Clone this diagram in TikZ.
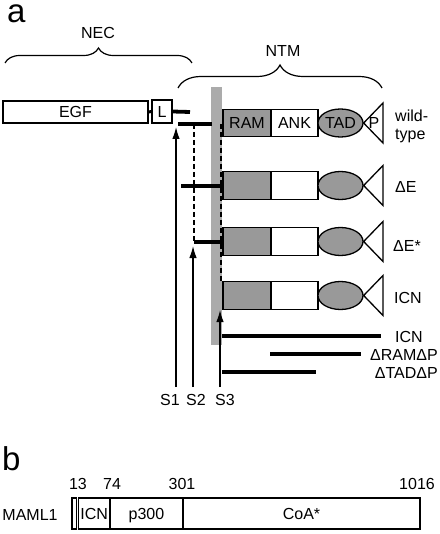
\documentclass[tikz,border=0pt]{standalone}
\usepackage{fontspec}
\setmainfont{Liberation Sans}
\usetikzlibrary{arrows.meta,decorations.pathreplacing,shapes.geometric}
\begin{document}
\begin{tikzpicture}[x=1pt,y=-1pt,
  txt/.style={inner sep=0pt, font=\fontsize{16}{18}\selectfont},
  big/.style={inner sep=0pt, font=\fontsize{33}{36}\selectfont},
  dom/.style={draw, line width=1.3pt, inner sep=0pt, minimum height=27.5pt,
    font=\fontsize{16}{18}\selectfont, text height=11.2pt, text depth=0pt},
  ramd/.style={dom, fill=black!40, minimum width=48pt},
  ankd/.style={dom, fill=white, minimum width=47pt},
  tadd/.style={dom, ellipse, fill=black!40, minimum width=45pt, minimum height=28pt},
  pcap/.style={draw, line width=1.3pt, fill=white, line join=miter},
  bar/.style={line width=3.8pt},
  dsh/.style={line width=1.2pt, dash pattern=on 5pt off 3pt},
  arr/.style={line width=1.3pt, -{Latex[length=12pt,width=7.5pt]}},
  brc/.style={line width=1.2pt, decorate},
  seg/.style={draw, line width=1.1pt, inner sep=0pt, minimum height=31pt,
    font=\fontsize{16}{18}\selectfont, text height=11.2pt, text depth=0pt},
]
\useasboundingbox (0,0) rectangle (439,534);

% panel labels
\node[big, anchor=base west] (pa) at (7,23) {a};
\node[big, anchor=base west] (pb) at (2,470) {b};

% braces
\coordinate (necl) at (5,63);
\coordinate (necr) at (192,63);
\draw[brc, decoration={brace, amplitude=15pt}] (necl) -- (necr);
\node[txt, anchor=base] (nec) at (98,38.5) {NEC};
\coordinate (ntml) at (178,88);
\coordinate (ntmr) at (382,88);
\draw[brc, decoration={brace, amplitude=23pt}] (ntml) -- (ntmr);
\node[txt, anchor=base] (ntm) at (283,57) {NTM};

% membrane
\node[fill=black!33, inner sep=0pt, minimum width=11pt, minimum height=258pt] (mem) at (216.5,216) {};

% NEC
\node[dom, fill=white, minimum width=145pt, minimum height=22pt] (egf) at (75.5,112) {EGF};
\node[dom, fill=white, minimum width=20pt, minimum height=23pt] (lbox) at (162,111.5) {L};
\draw[line width=3pt] (egf.east) -- (lbox.west);
\coordinate (lend) at (190,112);
\draw[bar] (lbox.east) -- (lend);

% juxtamembrane lines
\coordinate (wtl) at (178,124);
\coordinate (wtr) at (212,124);
\draw[bar] (wtl) -- (wtr);
\coordinate (del) at (181,186);
\coordinate (der) at (222,186);
\draw[bar] (del) -- (der);
\coordinate (dsl) at (194,242);
\coordinate (dsr) at (222,242);
\draw[bar] (dsl) -- (dsr);

% dashed lines
\coordinate (d2t) at (194,124);
\draw[dsh] (d2t) -- (dsl);
\coordinate (d3t) at (221,124);
\coordinate (d3b) at (221,282);
\draw[dsh] (d3t) -- (d3b);

% wild-type row
\node[ramd] (ram1) at (247,123) {RAM};
\node[ankd] (ank1) at (294.5,123) {ANK};
\node[tadd] (tad1) at (340.5,123) {TAD};
\draw[pcap] (tad1.east) -- (383,103) -- (383,143) -- cycle;
\node[txt, text height=11.2pt, text depth=0pt] (p1) at (374,123) {P};
\node[txt, anchor=base west] (lwt1) at (395,122) {wild-};
\node[txt, anchor=base west] (lwt2) at (395,140) {type};

% other rows
\foreach \yy/\n in {185.5/2,241.5/3,295.5/4}{
  \node[ramd] (ram\n) at (247,\yy) {};
  \node[ankd] (ank\n) at (294.5,\yy) {};
  \node[tadd] (tad\n) at (340.5,\yy) {};
  \draw[pcap] (tad\n.east) -- (383,\yy-20) -- (383,\yy+20) -- cycle;
}
\node[txt, anchor=base west] (lde) at (395,193) {ΔE};
\node[txt, anchor=base west] (ldes) at (393,251) {ΔE*};
\node[txt, anchor=base west] (licn) at (394,303) {ICN};

% constructs lines
\coordinate (c1l) at (222,336); \coordinate (c1r) at (381,336);
\draw[bar] (c1l) -- (c1r);
\coordinate (c2l) at (270,354); \coordinate (c2r) at (361,354);
\draw[bar] (c2l) -- (c2r);
\coordinate (c3l) at (222,372); \coordinate (c3r) at (316,372);
\draw[bar] (c3l) -- (c3r);
\node[txt, anchor=base west] (lc1) at (395,342) {ICN};
\node[txt, anchor=base east] (lc2) at (438,360) {ΔRAMΔP};
\node[txt, anchor=base east] (lc3) at (438,378) {ΔTADΔP};

% cleavage arrows
\coordinate (s1b) at (176,387); \coordinate (s1t) at (176,127);
\coordinate (s2b) at (193,387); \coordinate (s2t) at (193,246);
\coordinate (s3b) at (220,387); \coordinate (s3t) at (220,310);
\draw[arr] (s1b) -- (s1t);
\draw[arr] (s2b) -- (s2t);
\draw[arr] (s3b) -- (s3t);
\node[txt, anchor=base] (ls1) at (170,405) {S1};
\node[txt, anchor=base] (ls2) at (196,405) {S2};
\node[txt, anchor=base] (ls3) at (225,405) {S3};

% panel b
\node[txt, anchor=base] (maml) at (30,520) {MAML1};
\node[seg, minimum width=4.5pt] (m13) at (74.25,513.5) {};
\node[seg, minimum width=31.5pt] (micn) at (94.25,513.5) {ICN};
\node[seg, minimum width=73pt] (mp300) at (146.5,513.5) {p300};
\node[seg, minimum width=237pt] (mcoa) at (301.5,513.5) {CoA*};
\node[txt, anchor=base] (n13) at (78,489) {13};
\node[txt, anchor=base] (n74) at (112,489) {74};
\node[txt, anchor=base] (n301) at (182,489) {301};
\node[txt, anchor=base] (n1016) at (417,489) {1016};
\end{tikzpicture}
\end{document}
